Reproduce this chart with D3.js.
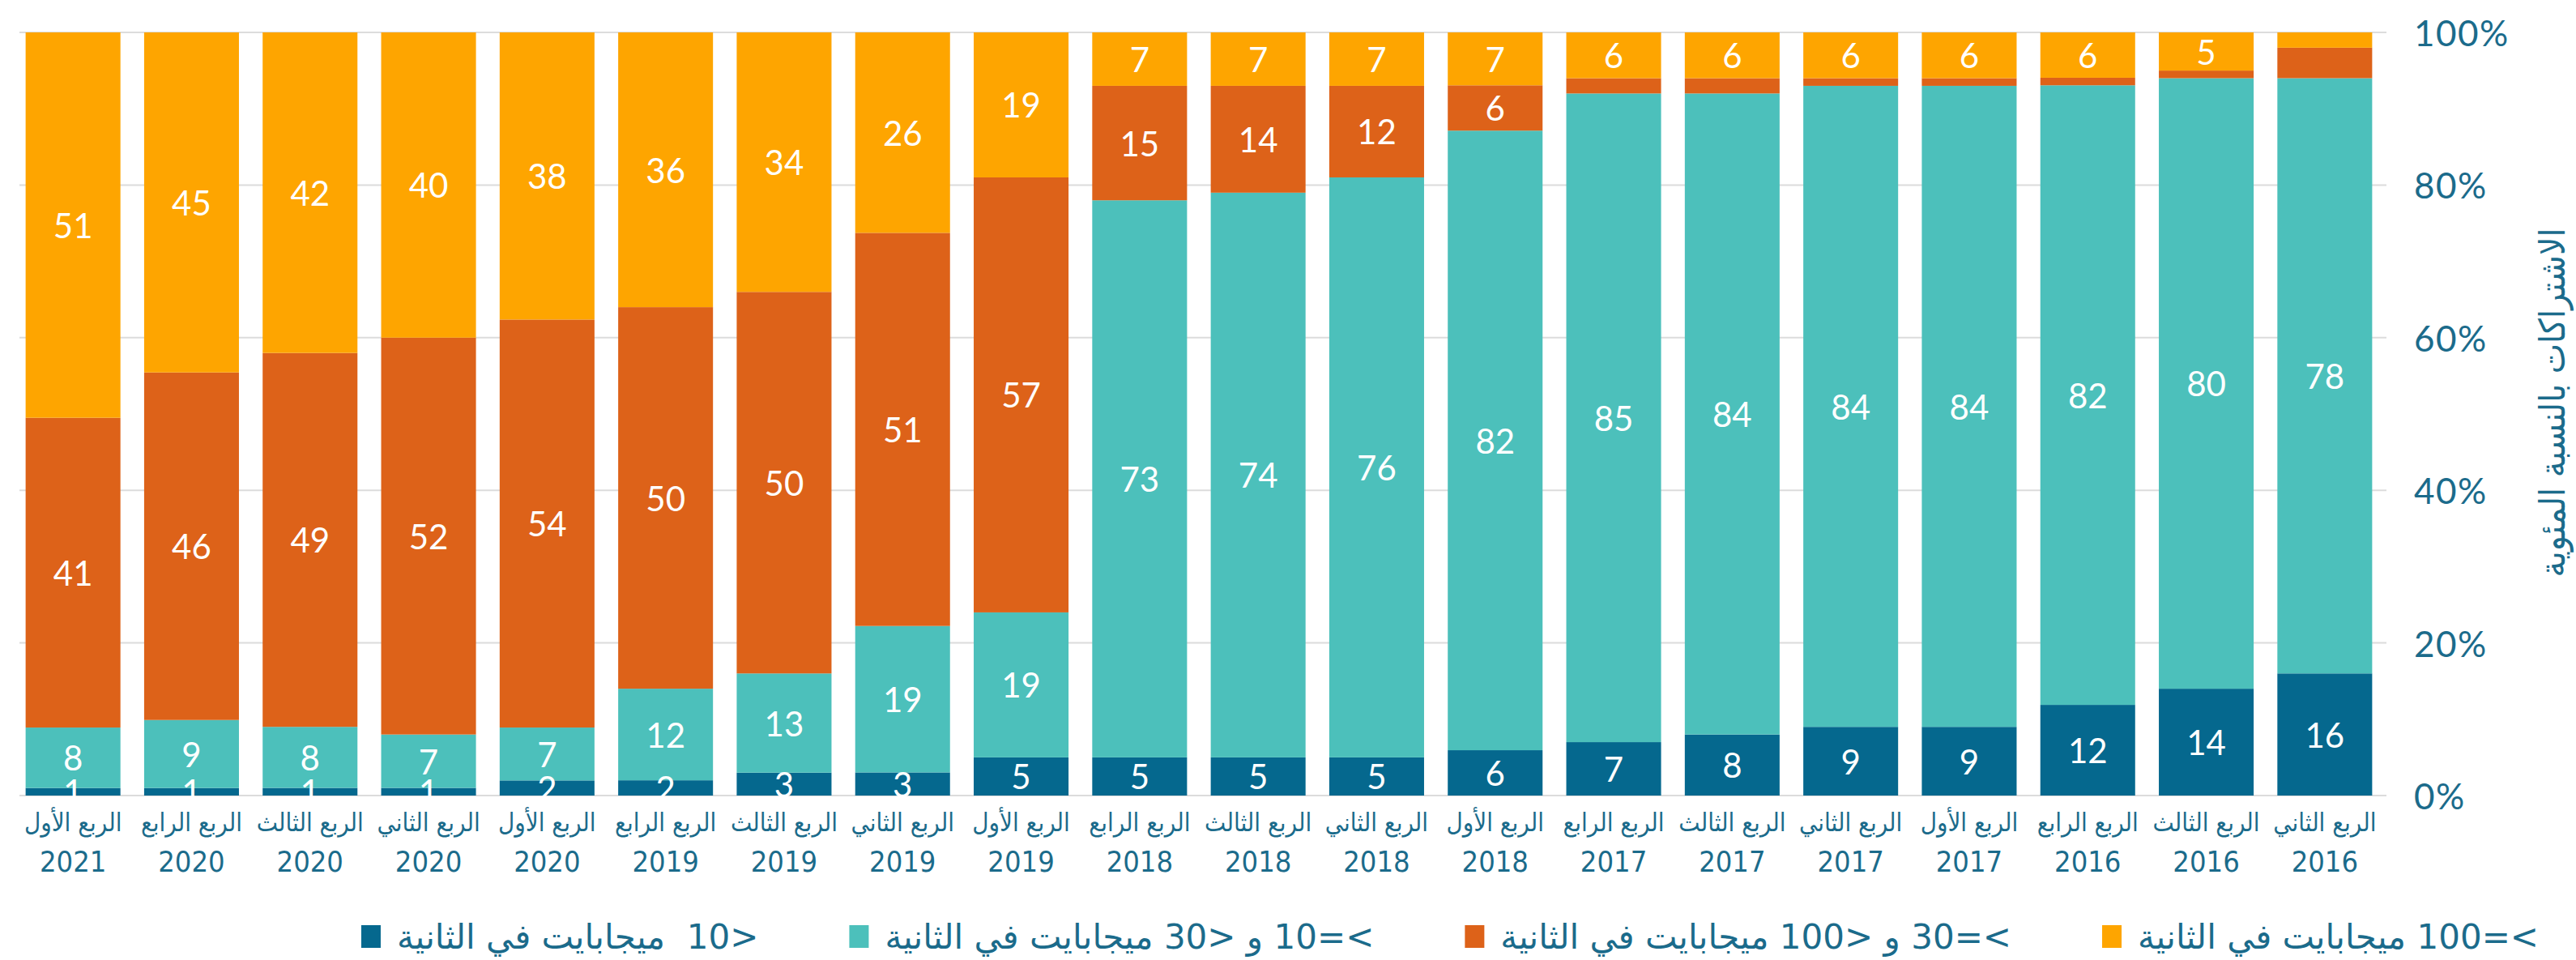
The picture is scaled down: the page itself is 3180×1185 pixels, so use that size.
<!DOCTYPE html>
<meta charset="utf-8">
<head>
<style>
  body { margin: 0; background: #fff; }
  .grid line { stroke: #dcdcdc; stroke-width: 2; }
  .tick-label { font-family: Lato, "Open Sans", sans-serif; font-size: 44px; letter-spacing: 1.5px; fill: #1b6b8b; }
  .ar { font-family: "DejaVu Sans Condensed", "DejaVu Sans", sans-serif; fill: #1b6b8b; }
  .val { font-family: Lato, "Open Sans", sans-serif; font-size: 42px; fill: #fff; }
</style>
<script src="https://d3js.org/d3.v7.min.js"></script>
</head>
<body>
<svg width="3180" height="1185"></svg>
<script>
// quarters in time order (2016 Q2 -> 2021 Q1); drawn right-to-left
var quarters = ["الربع الثاني", "الربع الثالث", "الربع الرابع",
  "الربع الأول", "الربع الثاني", "الربع الثالث", "الربع الرابع",
  "الربع الأول", "الربع الثاني", "الربع الثالث", "الربع الرابع",
  "الربع الأول", "الربع الثاني", "الربع الثالث", "الربع الرابع",
  "الربع الأول", "الربع الثاني", "الربع الثالث", "الربع الرابع",
  "الربع الأول"];
var years = ["2016", "2016", "2016",
  "2017", "2017", "2017", "2017",
  "2018", "2018", "2018", "2018",
  "2019", "2019", "2019", "2019",
  "2020", "2020", "2020", "2020",
  "2021"];

var under10   = [16, 14, 12, 9, 9, 8, 7, 6, 5, 5, 5, 5, 3, 3, 2, 2, 1, 1, 1, 1];
var from10    = [78, 80, 82, 84, 84, 84, 85, 82, 76, 74, 73, 19, 19, 13, 12, 7, 7, 8, 9, 8];
var from30    = [4, 1, 1, 1, 1, 2, 2, 6, 12, 14, 15, 57, 51, 50, 50, 54, 52, 49, 46, 41];
var over100   = [2, 5, 6, 6, 6, 6, 6, 7, 7, 7, 7, 19, 26, 34, 36, 38, 40, 42, 45, 51];

var seriesNames = ["<10  ميجابايت في الثانية", ">=10 و <30 ميجابايت في الثانية",
  ">=30 و <100 ميجابايت في الثانية", ">=100 ميجابايت في الثانية"];
var seriesColors = ["#05688e", "#4cc0bb", "#dd6219", "#fea500"];
var yTicks = [0, 0.2, 0.4, 0.6, 0.8, 1];
var yTitle = "الاشتراكات بالنسبة المئوية";

var svg = d3.select("svg");
var keys = ["a", "b", "c", "d"];
var rows = quarters.map(function(q, i) {
  return {i: i, a: under10[i], b: from10[i], c: from30[i], d: over100[i]};
});

var x = d3.scaleBand()
  .domain(d3.range(quarters.length))
  .range([2943, 17])
  .paddingInner(0.2)
  .paddingOuter(0.1);
var y = d3.scaleLinear().domain([0, 1]).range([982, 40]);

// grid lines
svg.append("g").attr("class", "grid")
  .selectAll("line").data(yTicks).enter().append("line")
  .attr("x1", 24).attr("x2", 2946)
  .attr("y1", function(d) { return y(d); })
  .attr("y2", function(d) { return y(d); });

var stacked = d3.stack().keys(keys).offset(d3.stackOffsetExpand)(rows);

var layer = svg.append("g").selectAll("g").data(stacked).enter().append("g")
  .attr("fill", function(d, k) { return seriesColors[k]; });

layer.selectAll("rect").data(function(d) { return d; }).enter().append("rect")
  .attr("x", function(d) { return x(d.data.i); })
  .attr("width", x.bandwidth())
  .attr("y", function(d) { return y(d[1]); })
  .attr("height", function(d) { return y(d[0]) - y(d[1]); });

// value labels
stacked.forEach(function(s, k) {
  svg.append("g").selectAll("text")
    .data(s.filter(function(d) { return k == 0 || d.data[keys[k]] >= 5; }))
    .enter().append("text")
    .attr("class", "val")
    .attr("text-anchor", "middle")
    .attr("dominant-baseline", "central")
    .attr("x", function(d) { return x(d.data.i) + x.bandwidth() / 2; })
    .attr("y", function(d) { return (y(d[0]) + y(d[1])) / 2; })
    .text(function(d) { return d.data[keys[k]]; });
});

// y axis labels on the right
svg.append("g").selectAll("text").data(yTicks).enter().append("text")
  .attr("class", "tick-label")
  .attr("x", 2980)
  .attr("y", function(d) { return y(d); })
  .attr("dominant-baseline", "central")
  .text(d3.format(".0%"));

svg.append("text")
  .attr("class", "ar")
  .attr("transform", "translate(3150,497) rotate(-90)")
  .attr("text-anchor", "middle")
  .attr("dominant-baseline", "central")
  .style("direction", "rtl")
  .style("font-size", "44px")
  .text(yTitle);

// x labels
var xl = svg.append("g").selectAll("g").data(quarters).enter().append("g")
  .attr("transform", function(d, i) { return "translate(" + (x(i) + x.bandwidth() / 2) + ",0)"; });
xl.append("text")
  .attr("class", "ar")
  .attr("y", 1026)
  .attr("text-anchor", "middle")
  .style("direction", "rtl")
  .style("font-size", "31px")
  .text(function(d) { return d; });
xl.append("text")
  .attr("class", "ar")
  .attr("y", 1076)
  .attr("text-anchor", "middle")
  .style("font-size", "36px")
  .text(function(d, i) { return years[i]; });

// legend, laid out left to right from measured widths
var legend = svg.append("g");
var items = legend.selectAll("g").data(seriesNames).enter().append("g");
items.append("rect")
  .attr("width", 24).attr("height", 28)
  .attr("y", 1142)
  .attr("fill", function(d, k) { return seriesColors[k]; });
var lt = items.append("text")
  .attr("class", "ar")
  .attr("y", 1156)
  .attr("text-anchor", "middle")
  .attr("dominant-baseline", "central")
  .style("direction", "rtl")
  .style("white-space", "pre")
  .style("font-family", "'DejaVu Sans', sans-serif")
  .style("font-size", "42px")
  .text(function(d) { return d; });
var widths = [];
lt.each(function() { widths.push(this.getComputedTextLength()); });
var total = d3.sum(widths) + widths.length * 44 + (widths.length - 1) * 112;
var cx = 1790 - total / 2;
items.each(function(d, k) {
  var g = d3.select(this);
  g.select("rect").attr("x", cx);
  g.select("text").attr("x", cx + 44 + widths[k] / 2);
  cx += 44 + widths[k] + 112;
});
</script>
</body>
